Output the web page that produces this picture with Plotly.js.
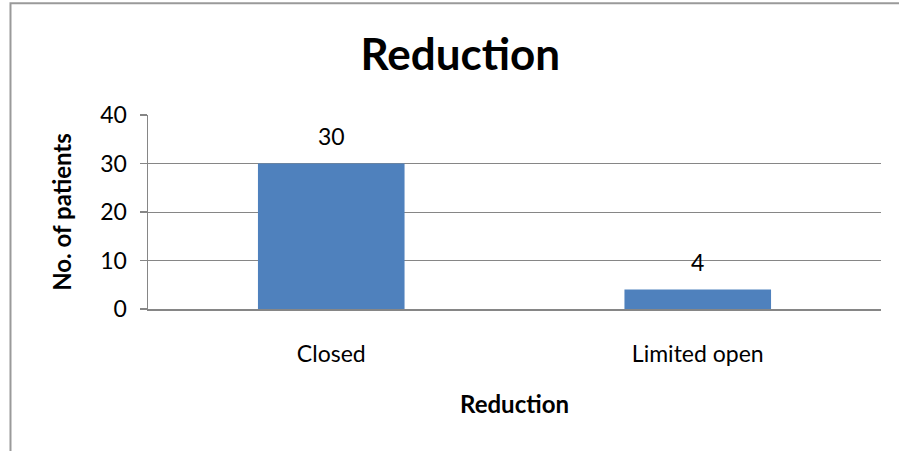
<!DOCTYPE html>
<html><head><meta charset="utf-8">
<script src="https://cdn.plot.ly/plotly-3.0.1.min.js"></script>
<style>html,body{margin:0;padding:0;background:#fff;}#chart{width:899px;height:451px;}</style>
</head><body><div id="chart"></div>
<script>
const categories = ["Closed", "Limited open"];
const patients = [30, 4];
const yTicks = [0, 10, 20, 30, 40];

const font = "Lato, 'Open Sans', sans-serif";
const trace = {
  type: "bar", x: categories, y: patients, width: 0.4,
  marker: {color: "#4F81BD", line: {width: 0}},
  hoverinfo: "skip"
};
const annotations = categories.map((c, i) => ({
  x: c, y: patients[i], xref: "x", yref: "y", text: String(patients[i]),
  showarrow: false, yanchor: "bottom", yshift: 12,
  font: {family: font, size: 23, color: "#000"}
}));
const layout = {
  width: 899, height: 451,
  margin: {l: 148, r: 18, t: 115, b: 142},
  paper_bgcolor: "#fff", plot_bgcolor: "#fff",
  title: {text: "<b>Reduction</b>", x: 0.512, xanchor: "center", y: 0.878, yanchor: "middle",
    font: {family: font, size: 44, color: "#000"}},
  xaxis: {
    showline: true, linecolor: "#868686", linewidth: 1.5,
    ticks: "", showgrid: false, ticklabelstandoff: 24,
    tickfont: {family: font, size: 23, color: "#000"},
    title: {text: "<b>Reduction</b>", standoff: 30, font: {family: font, size: 24, color: "#000"}},
    fixedrange: true
  },
  yaxis: {
    range: [0, 40], tickvals: yTicks, ticktext: yTicks.map(String),
    showline: true, linecolor: "#868686", linewidth: 1.5,
    ticks: "outside", ticklen: 7, tickcolor: "#868686", tickwidth: 1.5,
    showgrid: true, gridcolor: "#868686", gridwidth: 1,
    zeroline: false, ticklabelstandoff: 8,
    tickfont: {family: font, size: 23, color: "#000"},
    title: {text: "<b>No. of patients</b>", standoff: 22, font: {family: font, size: 24, color: "#000"}},
    fixedrange: true
  },
  annotations: annotations,
  shapes: [{type: "rect", xref: "paper", yref: "paper", x0: -0.1876, x1: 1.1, y0: -1.2, y1: 1.576,
    line: {color: "#9a9a9a", width: 2}, fillcolor: "rgba(0,0,0,0)", layer: "below"}],
  showlegend: false
};
Plotly.newPlot("chart", [trace], layout, {displayModeBar: false, staticPlot: true});
</script></body></html>
